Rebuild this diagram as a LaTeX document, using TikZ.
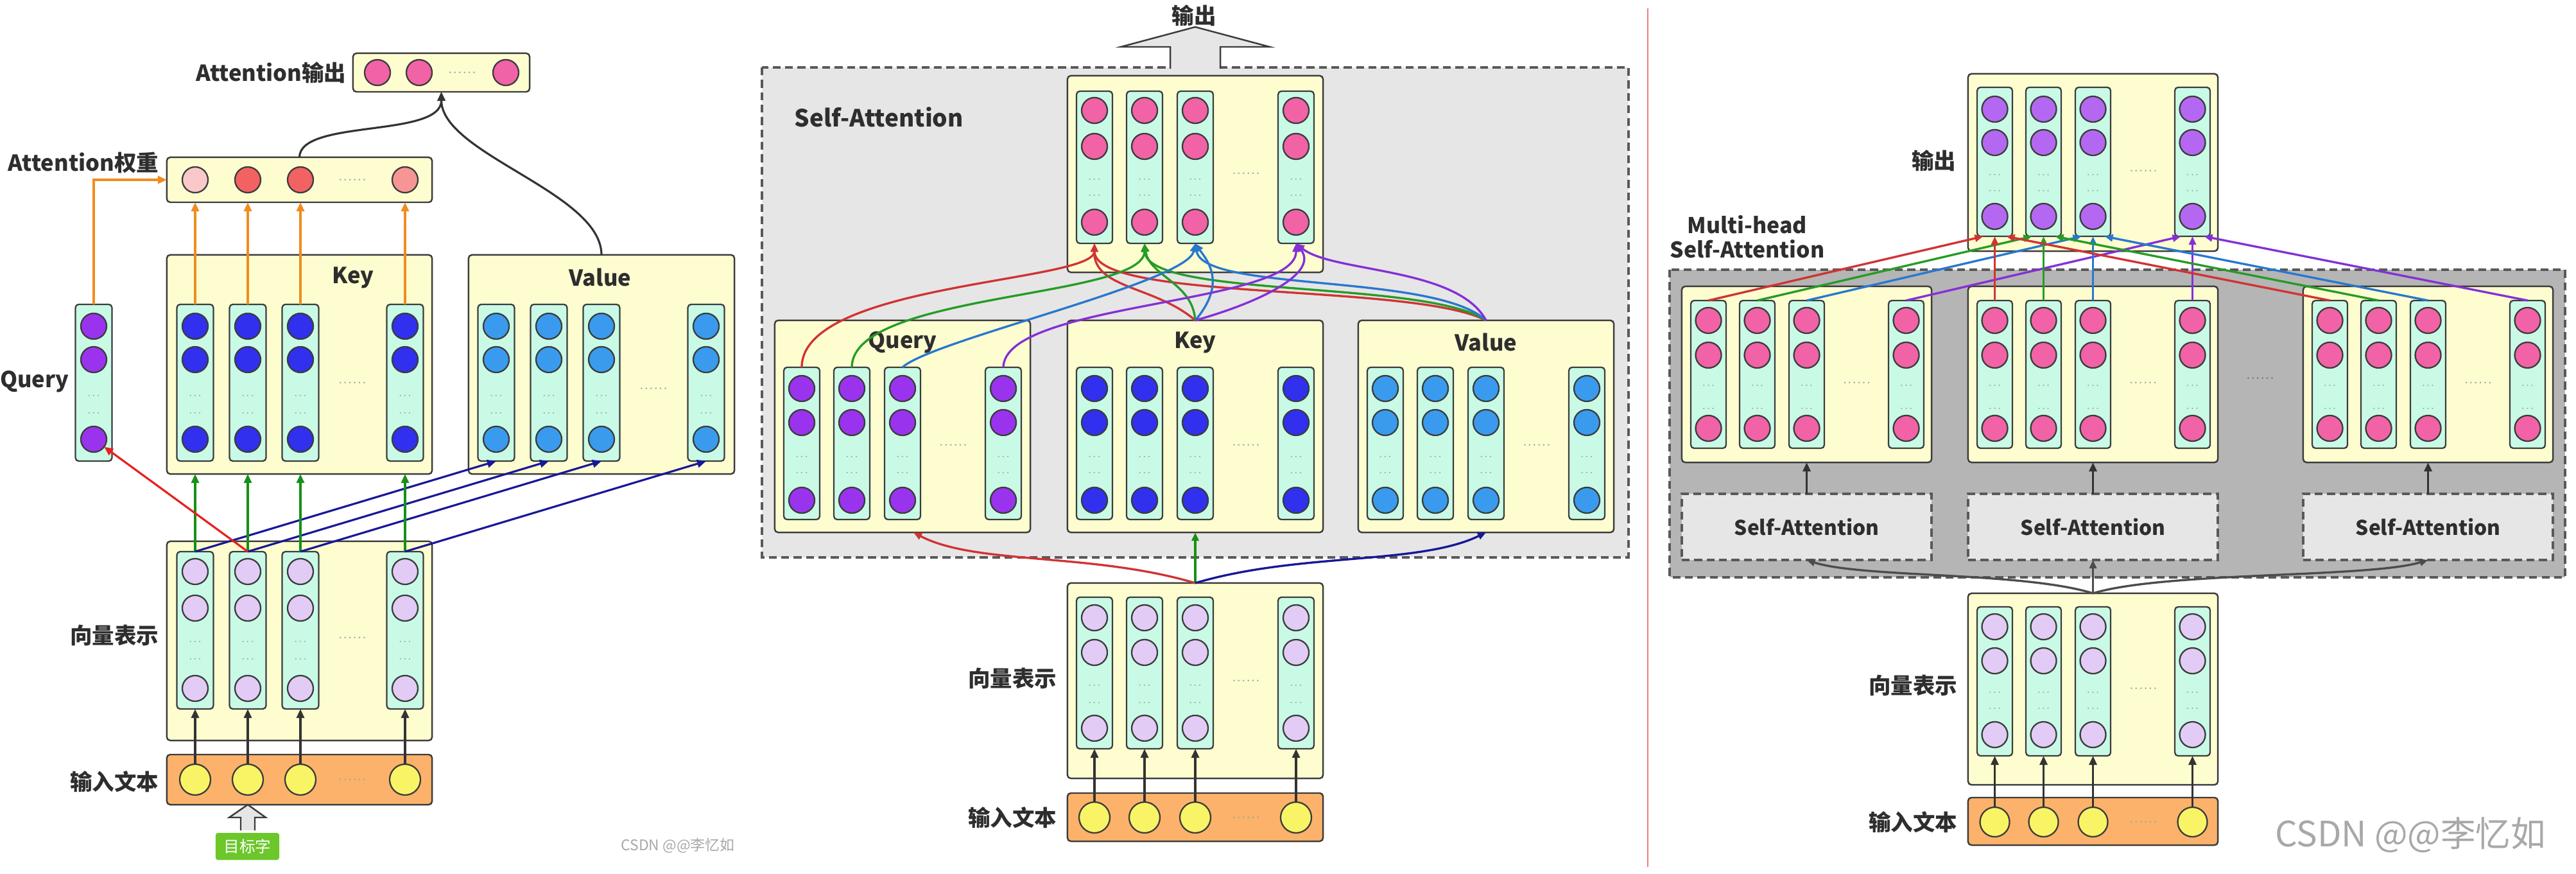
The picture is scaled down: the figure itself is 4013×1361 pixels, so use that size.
\documentclass[tikz,border=0pt]{standalone}
\usepackage{fontspec}
\usetikzlibrary{arrows.meta}
\newfontfamily\cjk{Noto Sans CJK SC}
\definecolor{boxyellow}{HTML}{FEFDD0}
\definecolor{colmint}{HTML}{C9FAE6}
\definecolor{edgegray}{HTML}{3C3C3C}
\definecolor{labelgray}{HTML}{2E2E2E}
\definecolor{dotgray}{HTML}{98AAA4}
\definecolor{qpurple}{HTML}{9A33EE}
\definecolor{kblue}{HTML}{3030EE}
\definecolor{vblue}{HTML}{3A9BEE}
\definecolor{veclilac}{HTML}{E2CCF6}
\definecolor{inyellow}{HTML}{F9F466}
\definecolor{inorange}{HTML}{FCB26A}
\definecolor{outpink}{HTML}{F262A6}
\definecolor{outviolet}{HTML}{B468F2}
\definecolor{wpale}{HTML}{F9C9CA}
\definecolor{wred}{HTML}{F26262}
\definecolor{wsalmon}{HTML}{F79494}
\definecolor{paleback}{HTML}{E6E6E6}
\definecolor{darkback}{HTML}{B5B5B5}
\definecolor{aorange}{HTML}{F08C1E}
\definecolor{agreen}{HTML}{169016}
\definecolor{anavy}{HTML}{181898}
\definecolor{ared}{HTML}{E62020}
\definecolor{cred}{HTML}{D13333}
\definecolor{cgreen}{HTML}{259C25}
\definecolor{cblue}{HTML}{2878CF}
\definecolor{cpurple}{HTML}{8530D6}
\definecolor{tgreen}{HTML}{6CC72A}
\definecolor{sepred}{HTML}{F27C7C}
\definecolor{markgray}{HTML}{A8A8A8}

\begin{document}
\begin{tikzpicture}[x=0.01cm, y=-0.01cm,
    panel/.style={draw=edgegray, line width=0.7pt, fill=boxyellow, rounded corners=1.5pt, inner sep=0pt, outer sep=0pt},
    vcol/.style={draw=edgegray, line width=0.65pt, fill=colmint, rounded corners=1.5pt, minimum width=0.57cm, inner sep=0pt, outer sep=0pt},
    cell/.style={circle, draw=edgegray, line width=0.65pt, minimum size=0.40cm, inner sep=0pt, outer sep=0pt},
    token/.style={cell, minimum size=0.48cm, fill=inyellow},
    coldots/.style={font=\fontsize{5}{5}\selectfont, text=dotgray, inner sep=0pt},
    rowdots/.style={font=\fontsize{6}{6}\selectfont, text=dotgray, inner sep=0pt},
    lbl/.style={font=\cjk\bfseries\fontsize{9.8}{11}\selectfont, text=labelgray, inner sep=0pt},
    arr/.style={-{Triangle[length=0.14cm, width=0.12cm]}, line width=0.9pt},
    flow/.style={-{Triangle[length=0.13cm, width=0.11cm]}, line width=0.95pt},
    hollow/.style={draw=edgegray, line width=0.7pt, line join=miter},
    backdrop/.style={draw=black!65, line width=1pt, dash pattern=on 3.5pt off 2pt},
    sabox/.style={backdrop, fill=paleback, minimum width=3.89cm, minimum height=1.03cm, inner sep=0pt, outer sep=0pt, font=\cjk\bfseries\fontsize{9}{10}\selectfont, text=labelgray},
    wmark/.style={font=\cjk, text=markgray, inner sep=0pt}]

\useasboundingbox (0,0) rectangle (4013,1361);

% ---------- left: one target word
\node[panel, minimum width=2.75cm, minimum height=0.60cm] (lout) at (687.5,113) {};
\foreach \x [count=\i] in {588,653,788} \node[cell, fill=outpink] (lo\i) at (\x,113) {};
\node[rowdots] (lod) at (720,113) {......};
\node[lbl, anchor=east] (loutl) at (540,113) {Attention输出};

\node[panel, minimum width=4.13cm, minimum height=0.70cm] (lw) at (466.5,280) {};
\foreach \x/\wc [count=\i] in {304/wpale,386/wred,468/wred,631/wsalmon} \node[cell, fill=\wc] (lw\i) at (\x,280) {};
\node[rowdots] (lwd) at (549,280) {......};
\node[lbl, anchor=west] (lwl) at (12,253) {Attention权重};

\node[vcol, minimum height=2.44cm] (lq) at (146,596) {};
\foreach \y [count=\j] in {508,560,684} \node[cell, fill=qpurple] (lq\j) at (146,\y) {};
\foreach \y [count=\j] in {616,643} \node[coldots] (lqd\j) at (146,\y) {...};
\node[lbl, anchor=east] (lql) at (108,594) {Query};

\node[panel, minimum width=4.13cm, minimum height=3.41cm] (lkey) at (466.5,567.5) {};
\node[lbl] (lkeyl) at (550,432) {Key};
\foreach \x [count=\i] in {304,386,468,631} {
  \node[vcol, minimum height=2.44cm] (lk\i) at (\x,596) {};
  \foreach \y [count=\j] in {508,560,684} \node[cell, fill=kblue] (lk\i-\j) at (\x,\y) {};
  \foreach \y [count=\j] in {616,643} \node[coldots] (lk\i-d\j) at (\x,\y) {...};
}
\node[rowdots] (lkd) at (549,596) {......};

\node[panel, minimum width=4.14cm, minimum height=3.41cm] (lval) at (937,567.5) {};
\node[lbl] (lvall) at (935,432) {Value};
\foreach \x [count=\i] in {773,855,937,1100} {
  \node[vcol, minimum height=2.44cm] (lval\i) at (\x,596) {};
  \foreach \y [count=\j] in {508,560,684} \node[cell, fill=vblue] (lval\i-\j) at (\x,\y) {};
  \foreach \y [count=\j] in {616,643} \node[coldots] (lval\i-d\j) at (\x,\y) {...};
}
\node[rowdots] (lvald) at (1018,605) {......};

\node[panel, minimum width=4.13cm, minimum height=3.10cm] (lvec) at (466.5,998) {};
\node[lbl, anchor=east] (lvecl) at (248,989) {向量表示};
\foreach \x [count=\i] in {304,386,468,631} {
  \node[vcol, minimum height=2.45cm] (lr\i) at (\x,981.5) {};
  \foreach \y [count=\j] in {890,947,1072} \node[cell, fill=veclilac] (lr\i-\j) at (\x,\y) {};
  \foreach \y [count=\j] in {999,1026} \node[coldots] (lr\i-d\j) at (\x,\y) {...};
}
\node[rowdots] (lvecd) at (549,993) {......};

\node[panel, fill=inorange, minimum width=4.13cm, minimum height=0.78cm] (lin) at (466.5,1214) {};
\node[lbl, anchor=east] (linl) at (248,1217) {输入文本};
\foreach \x [count=\i] in {304,386,468,631} \node[token] (lt\i) at (\x,1214) {};
\node[rowdots] (lind) at (549,1214) {......};

% target word and its hollow arrow
\fill[paleback] (375,1293) -- (375,1273) -- (357,1273) -- (386,1253) -- (414,1273) -- (397,1273) -- (397,1293) -- cycle;
\draw[hollow] (375,1293) -- (375,1273) -- (357,1273) -- (386,1253) -- (414,1273) -- (397,1273) -- (397,1293);
\node[fill=tgreen, rounded corners=1pt, minimum width=0.99cm, minimum height=0.42cm, inner sep=0pt, text=white, font=\cjk\fontsize{7}{8}\selectfont] (ltgt) at (385.5,1318) {目标字};
\node[wmark, font=\cjk\fontsize{6.5}{7}\selectfont] (lwm) at (1056,1317) {CSDN @@李忆如};

% left connectors
\foreach \i in {1,...,4} {
  \draw[arr, black!80] (lt\i) -- (lr\i);
  \draw[arr, agreen] (lr\i.north) -- (lr\i.north |- lkey.south);
  \draw[arr, anavy] (lr\i.north) -- (lval\i.south);
  \draw[arr, aorange] (lk\i.north) -- (lk\i.north |- lw.south);
}
\draw[arr, ared] (lr2.north) -- (lq3);
\draw[arr, aorange] (lq.north) |- (lw.west);
\draw[arr, black!80] (lw.north) .. controls (467,185) and (688,215) .. (lout.south);
\draw[arr, black!80] (lval.north) .. controls (937,300) and (688,240) .. (lout.south);

% ---------- middle: self-attention
\draw[backdrop, fill=paleback] (1187,105) rectangle (2537,868);
\fill[paleback] (1823,107) -- (1823,73) -- (1746,73) -- (1862,42) -- (1978,73) -- (1901,73) -- (1901,107) -- cycle;
\draw[hollow] (1823,107) -- (1823,73) -- (1746,73) -- (1862,42) -- (1978,73) -- (1901,73) -- (1901,107);
\node[lbl] (mtop) at (1860,24) {输出};
\node[lbl, font=\cjk\bfseries\fontsize{10.5}{12}\selectfont, anchor=west] (msa) at (1237,182) {Self-Attention};

\node[panel, minimum width=3.98cm, minimum height=3.06cm] (mout) at (1862,271) {};
\foreach \x [count=\i] in {1705,1783,1862,2019} {
  \node[vcol, minimum width=0.56cm, minimum height=2.37cm] (mo\i) at (\x,260.5) {};
  \foreach \y [count=\j] in {172,228,346} \node[cell, fill=outpink] (mo\i-\j) at (\x,\y) {};
  \foreach \y [count=\j] in {279,304} \node[coldots] (mo\i-d\j) at (\x,\y) {...};
}
\node[rowdots] (mod) at (1941,270) {......};

\foreach \bn/\bx/\bc/\bt in {mq/1406/qpurple/Query, mk/1862/kblue/Key, mv/2315/vblue/Value} {
  \node[panel, minimum width=3.98cm, minimum height=3.30cm] (\bn) at (\bx,664) {};
  \node[lbl] (\bn-l) at (\bx,533) {\bt};
  \foreach \dx [count=\i] in {-157,-79,0,157} {
    \node[vcol, minimum width=0.56cm, minimum height=2.37cm] (\bn\i) at ({\bx+(\dx)},690.5) {};
    \foreach \y [count=\j] in {605,658,779} \node[cell, fill=\bc] (\bn\i-\j) at ({\bx+(\dx)},\y) {};
    \foreach \y [count=\j] in {711,736} \node[coldots] (\bn\i-d\j) at ({\bx+(\dx)},\y) {...};
  }
  \node[rowdots] (\bn-d) at ({\bx+79},693) {......};
}

\node[panel, minimum width=3.98cm, minimum height=3.04cm] (mvec) at (1862,1060) {};
\node[lbl, anchor=east] (mvecl) at (1647,1056) {向量表示};
\foreach \x [count=\i] in {1705,1783,1862,2019} {
  \node[vcol, minimum width=0.56cm, minimum height=2.36cm] (mr\i) at (\x,1048) {};
  \foreach \y [count=\j] in {962,1016,1134} \node[cell, fill=veclilac] (mr\i-\j) at (\x,\y) {};
  \foreach \y [count=\j] in {1067,1094} \node[coldots] (mr\i-d\j) at (\x,\y) {...};
}
\node[rowdots] (mvecd) at (1941,1060) {......};

\node[panel, fill=inorange, minimum width=3.98cm, minimum height=0.75cm] (min) at (1862,1272.5) {};
\node[lbl, anchor=east] (minl) at (1647,1273) {输入文本};
\foreach \x [count=\i] in {1705,1783,1862,2019} \node[token] (mi\i) at (\x,1273) {};
\node[rowdots] (mind) at (1941,1273) {......};

% middle connectors
\foreach \i in {1,...,4} \draw[arr, black!80] (mi\i) -- (mr\i);
\draw[flow, cred] (mvec.north) .. controls (1700,860) and (1520,880) .. ([xshift=0.17cm]mq.south);
\draw[flow, agreen] (mvec.north) -- (mk.south);
\draw[flow, anavy] (mvec.north) .. controls (2024,860) and (2210,880) .. (mv.south);

\draw[flow, cred] (mq1.north) .. controls (1249,440) and (1705,440) .. (mo1.south);
\draw[flow, cred] (mk.north) .. controls (1800,445) and (1703,450) .. (mo1.south);
\draw[flow, cred] (mv.north) .. controls (2200,440) and (1705,470) .. (mo1.south);
\draw[flow, cgreen] (mq2.north) .. controls (1327,455) and (1783,465) .. (mo2.south);
\draw[flow, cgreen] (mk.north) .. controls (1858,440) and (1790,430) .. (mo2.south);
\draw[flow, cgreen] (mv.north) .. controls (2220,435) and (1785,465) .. (mo2.south);
\draw[flow, cblue] (mq3.north) .. controls (1450,530) and (1850,440) .. (mo3.south);
\draw[flow, cblue] (mk.north) .. controls (1912,440) and (1880,405) .. (mo3.south);
\draw[flow, cblue] (mv.north) .. controls (2235,425) and (1875,455) .. (mo3.south);
\draw[flow, cpurple] (mq4.north) .. controls (1565,470) and (2020,475) .. (mo4.south);
\draw[flow, cpurple] (mk.north) .. controls (1965,470) and (2055,425) .. (mo4.south);
\draw[flow, cpurple] (mv.north) .. controls (2270,415) and (2075,425) .. (mo4.south);

% separator
\draw[sepred, line width=0.8pt] (2567,13) -- (2567,1350);

% ---------- right: multi-head self-attention
\draw[backdrop, fill=darkback] (2601,420) rectangle (3996,899);
\node[lbl, align=center, font=\cjk\bfseries\fontsize{9.6}{10.8}\selectfont] (rmh) at (2722,369) {Multi-head\\Self-Attention};

\foreach \h/\bx in {1/2814.5, 2/3260.5, 3/3782.5} {
  \node[panel, minimum width=3.89cm, minimum height=2.74cm] (rh\h) at (\bx,583) {};
  \foreach \dx [count=\i] in {-153,-77,0,155} {
    \node[vcol, minimum width=0.55cm, minimum height=2.30cm] (rh\h-\i) at ({\bx+(\dx)},583) {};
    \foreach \y [count=\j] in {499,553,667} \node[cell, fill=outpink] (rh\h-\i-\j) at ({\bx+(\dx)},\y) {};
    \foreach \y [count=\j] in {600,636} \node[coldots] (rh\h-\i-d\j) at ({\bx+(\dx)},\y) {...};
  }
  \node[rowdots] (rh\h-d) at ({\bx+78},596) {......};
  \node[sabox] (rsa\h) at (\bx,820.5) {Self-Attention};
  \draw[arr, black!80] (rsa\h) -- (rh\h);
}
\node[rowdots, text=black!55] (rhd) at (3521,589) {......};

\node[panel, minimum width=3.89cm, minimum height=2.76cm] (rout) at (3260.5,253) {};
\node[lbl, anchor=east] (routl) at (3048,250) {输出};
\foreach \dx [count=\i] in {-153,-77,0,155} {
  \node[vcol, minimum width=0.55cm, minimum height=2.32cm] (ro\i) at ({3260.5+(\dx)},252) {};
  \foreach \y [count=\j] in {170,222,337} \node[cell, fill=outviolet] (ro\i-\j) at ({3260.5+(\dx)},\y) {};
  \foreach \y [count=\j] in {272,297} \node[coldots] (ro\i-d\j) at ({3260.5+(\dx)},\y) {...};
}
\node[rowdots] (routd) at (3339,266) {......};

\node[panel, minimum width=3.89cm, minimum height=2.98cm] (rvec) at (3260.5,1073) {};
\node[lbl, anchor=east] (rvecl) at (3050,1067) {向量表示};
\foreach \dx [count=\i] in {-153,-77,0,155} {
  \node[vcol, minimum width=0.55cm, minimum height=2.32cm] (rr\i) at ({3260.5+(\dx)},1061) {};
  \foreach \y [count=\j] in {976,1029,1144} \node[cell, fill=veclilac] (rr\i-\j) at ({3260.5+(\dx)},\y) {};
  \foreach \y [count=\j] in {1078,1103} \node[coldots] (rr\i-d\j) at ({3260.5+(\dx)},\y) {...};
}
\node[rowdots] (rvecd) at (3339,1072) {......};

\node[panel, fill=inorange, minimum width=3.89cm, minimum height=0.74cm] (rin) at (3260.5,1279) {};
\node[lbl, anchor=east] (rinl) at (3050,1280) {输入文本};
\foreach \dx [count=\i] in {-153,-77,0,155} \node[token, minimum size=0.46cm] (rt\i) at ({3260.5+(\dx)},1280) {};
\node[rowdots] (rind) at (3339,1280) {......};
\node[wmark, font=\cjk\fontsize{15.5}{17}\selectfont] (rwm) at (3755,1300) {CSDN @@李忆如};

% right connectors
\foreach \i in {1,...,4} \draw[arr, black!80] (rt\i) -- (rr\i);
\draw[flow, black!70] (rvec.north) .. controls (3150,890) and (2900,900) .. (rsa1.south);
\draw[flow, black!70] (rvec.north) -- (rsa2.south);
\draw[flow, black!70] (rvec.north) .. controls (3372,890) and (3690,900) .. (rsa3.south);
\foreach \h/\sh in {1/-0.18cm, 2/0cm, 3/0.18cm}
  \foreach \i/\lc in {1/cred, 2/cgreen, 3/cblue, 4/cpurple}
    \draw[flow, \lc] (rh\h-\i.north) -- ([xshift=\sh]ro\i.south);
\end{tikzpicture}
\end{document}
